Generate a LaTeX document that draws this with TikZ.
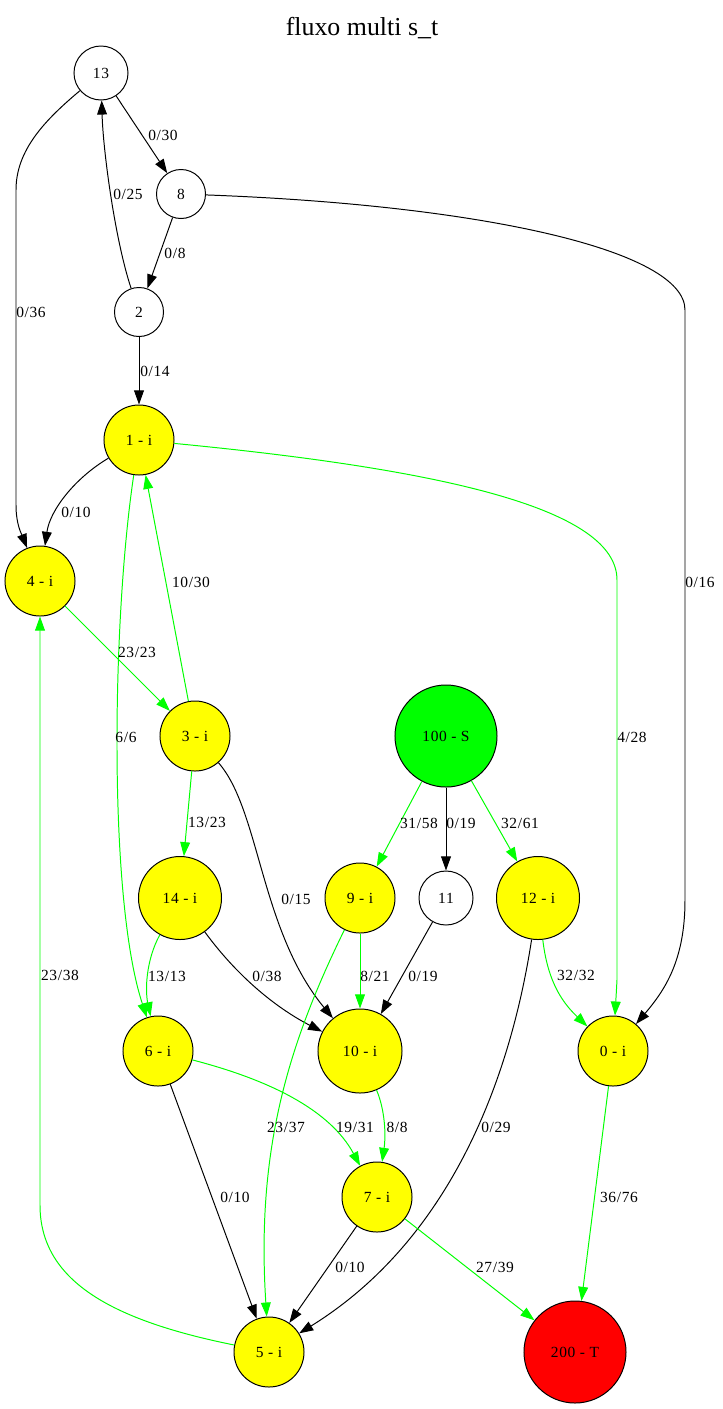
\documentclass[tikz,border=0pt]{standalone}
\usepackage{fontspec}
\setmainfont{Liberation Serif}
\newfontfamily\gvfont[LetterSpace=4]{Liberation Serif}
\usetikzlibrary{arrows.meta}

\definecolor{gvgreen}{RGB}{0,255,0}
\definecolor{gvyellow}{RGB}{255,255,0}
\definecolor{gvred}{RGB}{255,0,0}

\tikzset{
  vtx/.style={circle, draw, line width=0.7pt, inner sep=0pt,
    font=\gvfont\fontsize{11}{12}\selectfont},
  plain/.style={vtx, fill=white, minimum size=1.225cm},
  inter/.style={vtx, fill=gvyellow, minimum size=1.75cm},
  source/.style={vtx, fill=gvgreen, minimum size=2.55cm},
  sink/.style={vtx, fill=gvred, minimum size=2.55cm},
  flow/.style={draw=black, line width=0.7pt, -{Triangle[length=10pt,width=7pt]}},
  used/.style={flow, draw=gvgreen},
  lbl/.style={inner sep=0pt, font=\gvfont\fontsize{11}{12}\selectfont}
}

\begin{document}
\begin{tikzpicture}[x=0.025cm, y=-0.025cm]
    \useasboundingbox (0,0) rectangle (723,1409);

    % Title
    \node[font=\fontsize{18.4}{20}\selectfont] (title) at (362,28) {fluxo multi s\_t};

    % Vertices
    \node[plain, minimum size=1.35cm] (n13) at (101,73) {13};
    \node[plain] (n8) at (181,194) {8};
    \node[plain] (n2) at (139,312) {2};
    \node[inter] (n1) at (139,440) {1 - i};
    \node[inter] (n4) at (40,581) {4 - i};
    \node[inter] (n3) at (195,736) {3 - i};
    \node[source] (n100) at (446,736) {100 - S};
    \node[inter, minimum size=2.075cm] (n14) at (180,898) {14 - i};
    \node[inter] (n9) at (360,898) {9 - i};
    \node[plain, minimum size=1.35cm] (n11) at (446,898) {11};
    \node[inter, minimum size=2.075cm] (n12) at (538,898) {12 - i};
    \node[inter] (n6) at (158,1051) {6 - i};
    \node[inter, minimum size=2.1cm] (n10) at (360,1051) {10 - i};
    \node[inter] (n0) at (613,1051) {0 - i};
    \node[inter] (n7) at (377,1197) {7 - i};
    \node[inter] (n5) at (269,1352) {5 - i};
    \node[sink] (n200) at (575,1352) {200 - T};

    % Empty edges
    \draw[flow] (n13) -- (n8);
    \draw[flow] (n13) .. controls (45,120) and (16,150) .. (16,190) -- (16,505) .. controls (16,525) and (22,535) .. (n4);
    \draw[flow] (n2) .. controls (115,240) and (103,150) .. (n13);
    \draw[flow] (n8) -- (n2);
    \draw[flow] (n8) .. controls (480,205) and (685,250) .. (685,310) -- (685,900) .. controls (685,960) and (665,990) .. (n0);
    \draw[flow] (n2) -- (n1);
    \draw[flow] (n1) .. controls (75,478) and (50,510) .. (n4);
    \draw[flow] (n3) .. controls (260,810) and (260,930) .. (n10);
    \draw[flow] (n100) -- (n11);
    \draw[flow] (n14) .. controls (240,980) and (280,1010) .. (n10);
    \draw[flow] (n11) -- (n10);
    \draw[flow] (n12) .. controls (510,1080) and (450,1240) .. (n5);
    \draw[flow] (n6) -- (n5);
    \draw[flow] (n7) -- (n5);

    % Edges carrying flow
    \draw[used] (n1) .. controls (450,470) and (617,510) .. (617,580) -- (617,980) -- (n0);
    \draw[used] (n1) .. controls (112,620) and (108,900) .. (n6);
    \draw[used] (n3) -- (n1);
    \draw[used] (n4) -- (n3);
    \draw[used] (n3) -- (n14);
    \draw[used] (n100) -- (n9);
    \draw[used] (n100) -- (n12);
    \draw[used] (n14) .. controls (146,960) and (145,990) .. (n6);
    \draw[used] (n9) -- (n10);
    \draw[used] (n9) .. controls (288,1045) and (256,1150) .. (n5);
    \draw[used] (n12) .. controls (548,985) and (565,1005) .. (n0);
    \draw[used] (n6) .. controls (270,1080) and (330,1110) .. (n7);
    \draw[used] (n10) .. controls (385,1110) and (386,1135) .. (n7);
    \draw[used] (n0) -- (n200);
    \draw[used] (n7) -- (n200);
    \draw[used] (n5) .. controls (110,1320) and (40,1280) .. (40,1205) -- (n4);

    % Flow / capacity labels
    \node[lbl] (l13a) at (163,135) {0/30};
    \node[lbl] (l13b) at (31,312) {0/36};
    \node[lbl] (l2a) at (128,194) {0/25};
    \node[lbl] (l8a) at (175,253) {0/8};
    \node[lbl] (l8b) at (700,582) {0/16};
    \node[lbl] (l2b) at (155,371) {0/14};
    \node[lbl] (l1a) at (76,512) {0/10};
    \node[lbl] (l1b) at (632,737) {4/28};
    \node[lbl] (l1c) at (126,737) {6/6};
    \node[lbl] (l3a) at (191,582) {10/30};
    \node[lbl] (l4a) at (137,652) {23/23};
    \node[lbl] (l3b) at (207,822) {13/23};
    \node[lbl] (l3c) at (296,899) {0/15};
    \node[lbl] (lSa) at (419,823) {31/58};
    \node[lbl] (lSb) at (461,823) {0/19};
    \node[lbl] (lSc) at (520,823) {32/61};
    \node[lbl] (l14a) at (167,976) {13/13};
    \node[lbl] (l14b) at (267,976) {0/38};
    \node[lbl] (l9a) at (375,976) {8/21};
    \node[lbl] (l11a) at (423,976) {0/19};
    \node[lbl] (l12a) at (576,975) {32/32};
    \node[lbl] (l5a) at (60,975) {23/38};
    \node[lbl] (l9b) at (286,1127) {23/37};
    \node[lbl] (l6a) at (355,1127) {19/31};
    \node[lbl] (l10a) at (397,1127) {8/8};
    \node[lbl] (l12b) at (496,1127) {0/29};
    \node[lbl] (l6b) at (235,1197) {0/10};
    \node[lbl] (l0a) at (619,1197) {36/76};
    \node[lbl] (l7a) at (350,1267) {0/10};
    \node[lbl] (l7b) at (495,1267) {27/39};
\end{tikzpicture}
\end{document}
